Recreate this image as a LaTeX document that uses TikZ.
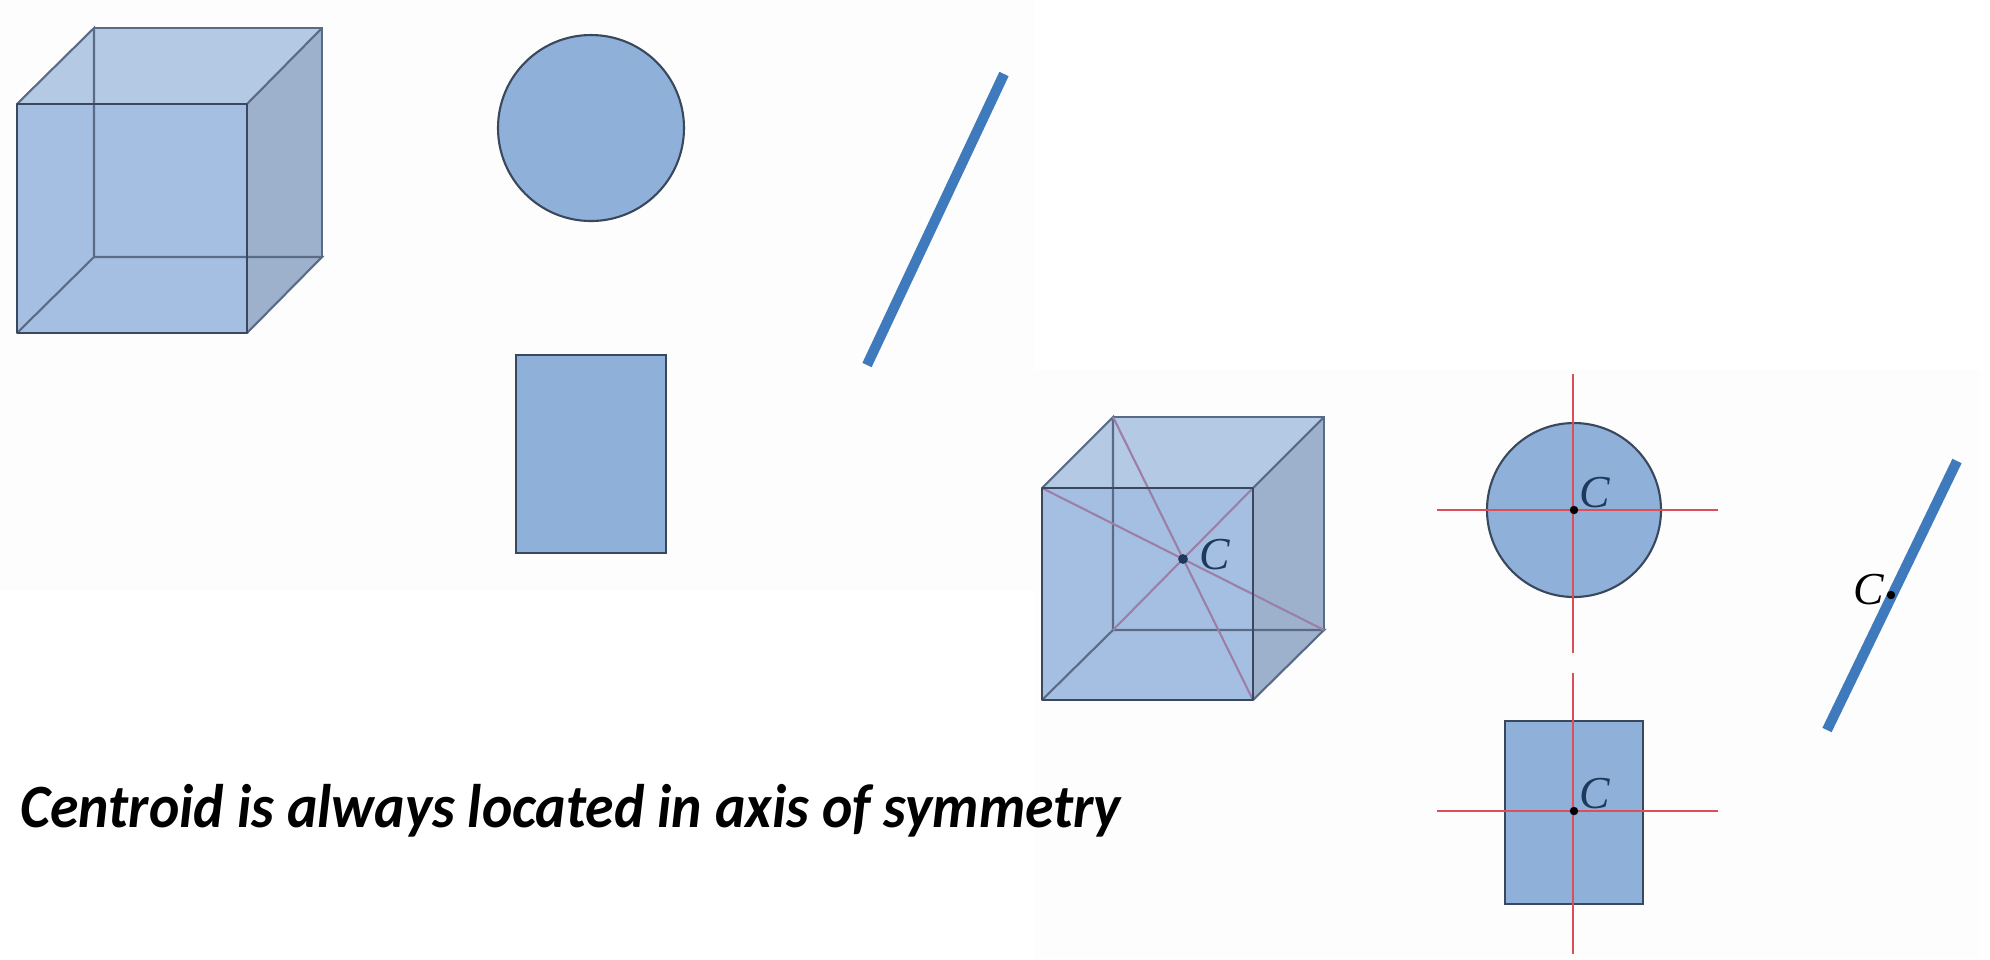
\documentclass[tikz,border=0pt]{standalone}
\usepackage{fontspec}
\setmainfont{Carlito}
\newfontfamily\labelfont{Liberation Serif}
\usepackage{xcolor}
\usetikzlibrary{positioning}
\definecolor{frontblue}{HTML}{A5BFE3}
\definecolor{topblue}{HTML}{B4C9E4}
\definecolor{sideblue}{HTML}{9DB1CC}
\definecolor{flatblue}{HTML}{8FB0D8}
\definecolor{rodblue}{HTML}{3F7ABD}
\definecolor{edgegray}{HTML}{39485C}
\definecolor{axisred}{HTML}{DC4F58}
\definecolor{diagred}{HTML}{9C7FA6}
\definecolor{paperwhite}{HTML}{FDFDFD}
\definecolor{inkblue}{HTML}{1D3A5C}

\begin{document}
\begin{tikzpicture}[x=0.01cm,y=-0.01cm,
    frontedge/.style={edgegray,line width=0.7pt,line join=round},
    backedge/.style={edgegray!70!frontblue,line width=0.6pt},
    flatshape/.style={fill=flatblue,draw=edgegray,line width=0.6pt},
    rod/.style={rodblue,line width=2.9pt},
    axisline/.style={axisred,line width=0.5pt},
    diagline/.style={diagred,line width=0.6pt},
    centre/.style={circle,fill=black,inner sep=0pt,minimum size=2.4pt},
    clabel/.style={inner sep=0pt,font=\labelfont\itshape\fontsize{13}{15}\selectfont}]
  \useasboundingbox (0,0) rectangle (1990,959);
  \fill[paperwhite] (0,0) rectangle (1035,590);
  \fill[paperwhite] (1035,370) rectangle (1980,959);

  % corners of the two boxes
  \foreach \k/\xa/\ya/\xb/\yb/\xc/\yc/\xd/\yd in
    {l/17/104/247/333/94/28/322/257, r/1042/488/1253/700/1113/417/1324/630} {
    \coordinate (\k fa) at (\xa,\ya);
    \coordinate (\k fb) at (\xb,\ya);
    \coordinate (\k fc) at (\xb,\yb);
    \coordinate (\k fd) at (\xa,\yb);
    \coordinate (\k ba) at (\xc,\yc);
    \coordinate (\k bb) at (\xd,\yc);
    \coordinate (\k bc) at (\xd,\yd);
    \coordinate (\k bd) at (\xc,\yd);
  }
  \foreach \k in {l,r} {
    \fill[frontblue] (\k fa) rectangle (\k fc);
    \fill[topblue] (\k fa) -- (\k ba) -- (\k bb) -- (\k fb) -- cycle;
    \fill[sideblue] (\k fb) -- (\k bb) -- (\k bc) -- (\k fc) -- cycle;
    \draw[backedge] (\k fa) -- (\k ba) -- (\k bd) -- (\k bc) -- (\k fc);
    \draw[backedge] (\k fd) -- (\k bd);
    \draw[backedge] (\k ba) -- (\k bb) -- (\k bc);
    \draw[backedge] (\k fb) -- (\k bb);
  }

  % diagonals of the right box
  \draw[diagline] (rfa) -- (rbc);
  \draw[diagline] (rba) -- (rfc);
  \draw[diagline] (rfb) -- (rbd);
  \foreach \k in {l,r} {
    \draw[frontedge] (\k fa) rectangle (\k fc);
  }
  \node[centre,fill=inkblue,minimum size=2.8pt] (boxc) at (1183,559) {};
  \node[clabel,text=inkblue] (boxclabel) at (1215,555) {C};

  % left figures
  \draw[flatshape] (591,128) circle (93);
  \draw[flatshape] (516,355) rectangle (666,553);
  \coordinate (rodlow) at (867,365);
  \coordinate (rodtop) at (1004,74);
  \draw[rod] (rodlow) -- (rodtop);

  % right figures
  \draw[flatshape] (1574,510) circle (87);
  \draw[flatshape] (1505,721) rectangle (1643,904);
  \foreach \n/\cy/\ya/\yb in {disc/510/374/653, plate/811/673/954} {
    \coordinate (\n w) at (1437,\cy);
    \coordinate (\n e) at (1718,\cy);
    \coordinate (\n n) at (1573,\ya);
    \coordinate (\n s) at (1573,\yb);
    \draw[axisline] (\n w) -- (\n e);
    \draw[axisline] (\n n) -- (\n s);
    \node[centre] (\n c) at (1574,\cy) {};
    \node[clabel,text=inkblue] (\n clabel) at (1595,\cy-17) {C};
  }
  \coordinate (slimlow) at (1827,730);
  \coordinate (slimtop) at (1957,461);
  \draw[rod] (slimlow) -- (slimtop);
  \node[centre] (slimc) at (1891,595) {};
  \node[clabel] (slimclabel) at (1869,590) {C};

  \node[anchor=base west,inner sep=0pt,xscale=0.937,font=\fontsize{17.5}{20}\selectfont\bfseries\itshape]
    (caption) at (20,827) {Centroid is always located in axis of symmetry};
\end{tikzpicture}
\end{document}
